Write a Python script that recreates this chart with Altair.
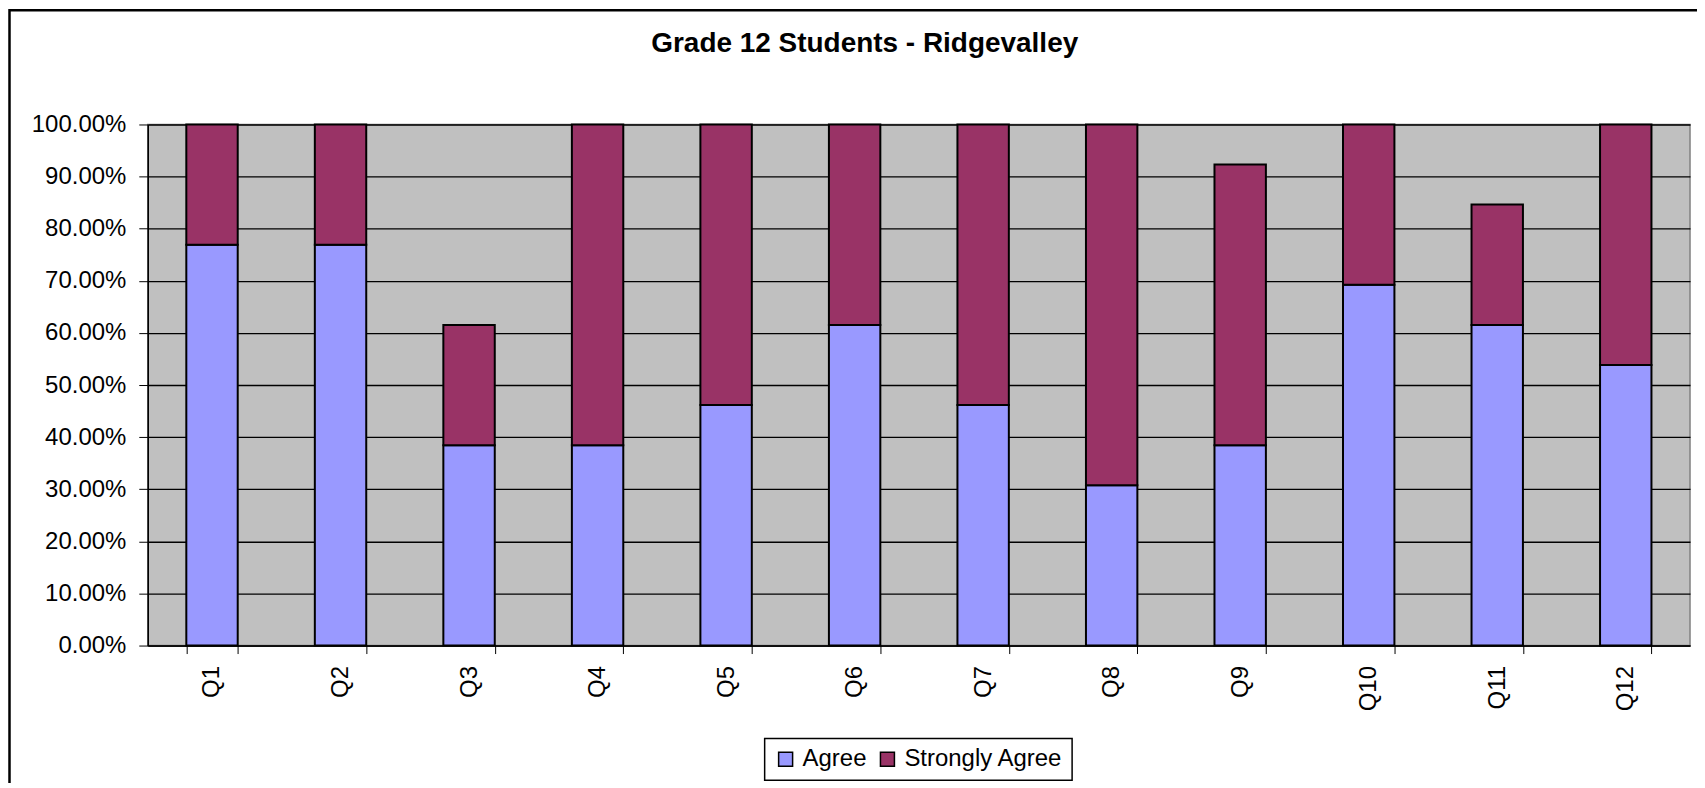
import altair as alt
import pandas as pd

questions = ["Q1", "Q2", "Q3", "Q4", "Q5", "Q6", "Q7", "Q8", "Q9", "Q10", "Q11", "Q12"]
agree = [76.92, 76.92, 38.46, 38.46, 46.15, 61.54, 46.15, 30.77, 38.46, 69.23, 61.54, 53.85]
strongly_agree = [23.08, 23.08, 23.08, 61.54, 53.85, 38.46, 53.85, 69.23, 53.85, 30.77, 23.08, 46.15]
series = ["Agree", "Strongly Agree"]
colors = ["#9999FF", "#993366"]
y_ticks = [0, 0.1, 0.2, 0.3, 0.4, 0.5, 0.6, 0.7, 0.8, 0.9, 1.0]

rows = []
for q, a, s in zip(questions, agree, strongly_agree):
    rows.append({"q": q, "series": series[0], "ord": 0, "v": a / 100})
    rows.append({"q": q, "series": series[1], "ord": 1, "v": s / 100})
df = pd.DataFrame(rows)

FONT = "Liberation Sans"

bars = alt.Chart(df).mark_bar(stroke="black", strokeWidth=2).encode(
    x=alt.X("q:N", sort=questions, title=None,
            scale=alt.Scale(paddingInner=0.6, paddingOuter=0.3),
            axis=alt.Axis(labelAngle=270, labelAlign="right", labelBaseline="middle",
                          labelFontSize=24, labelFont=FONT, labelColor="black",
                          labelPadding=12, tickBand="extent", tickSize=8,
                          tickColor="black", tickWidth=1,
                          domainColor="black", domainWidth=1.5, grid=False)),
    y=alt.Y("v:Q", stack="zero", title=None,
            scale=alt.Scale(domain=[0, 1], nice=False),
            axis=alt.Axis(values=y_ticks, format=".2%", labelFontSize=24, labelFont=FONT,
                          labelColor="black", labelPadding=13, tickSize=9,
                          tickColor="black", tickWidth=1, domainColor="black",
                          domainWidth=1.5, grid=True, gridColor="black", gridWidth=1.3)),
    color=alt.Color("series:N", sort=series,
                    scale=alt.Scale(domain=series, range=colors),
                    legend=alt.Legend(title=None, orient="none", legendX=618, legendY=615,
                                      direction="horizontal", labelFontSize=24, labelFont=FONT,
                                      labelColor="black", symbolType="square", symbolSize=196,
                                      symbolStrokeColor="black", symbolStrokeWidth=1.5,
                                      symbolOpacity=1, labelOffset=5, columnPadding=8,
                                      padding=9, strokeColor="black",
                                      fillColor="white")),
    order=alt.Order("ord:Q", sort="ascending"),
)

frame = alt.Chart(pd.DataFrame({"a": [0]})).mark_rect(
    filled=False, stroke="black", strokeWidth=2.5
).encode(
    x=alt.value(-138.5), x2=alt.value(1575), y=alt.value(-114.5), y2=alt.value(700)
)

chart = alt.layer(bars, frame).properties(
    width=1545, height=522,
    title=alt.Title("Grade 12 Students - Ridgevalley", fontSize=28, font=FONT,
                    fontWeight="bold", color="black", anchor="middle", frame="bounds",
                    baseline="alphabetic", offset=-71),
    autosize=alt.AutoSizeParams(type="none"),
    padding={"left": 140, "top": 116, "right": 7, "bottom": 137},
    background="white",
).configure_view(
    fill="#C0C0C0", stroke="#808080", strokeWidth=1.5
).configure_legend(
    strokeWidth=1.5
)

chart.save("out.html", embed_options={"renderer": "svg", "actions": False})
